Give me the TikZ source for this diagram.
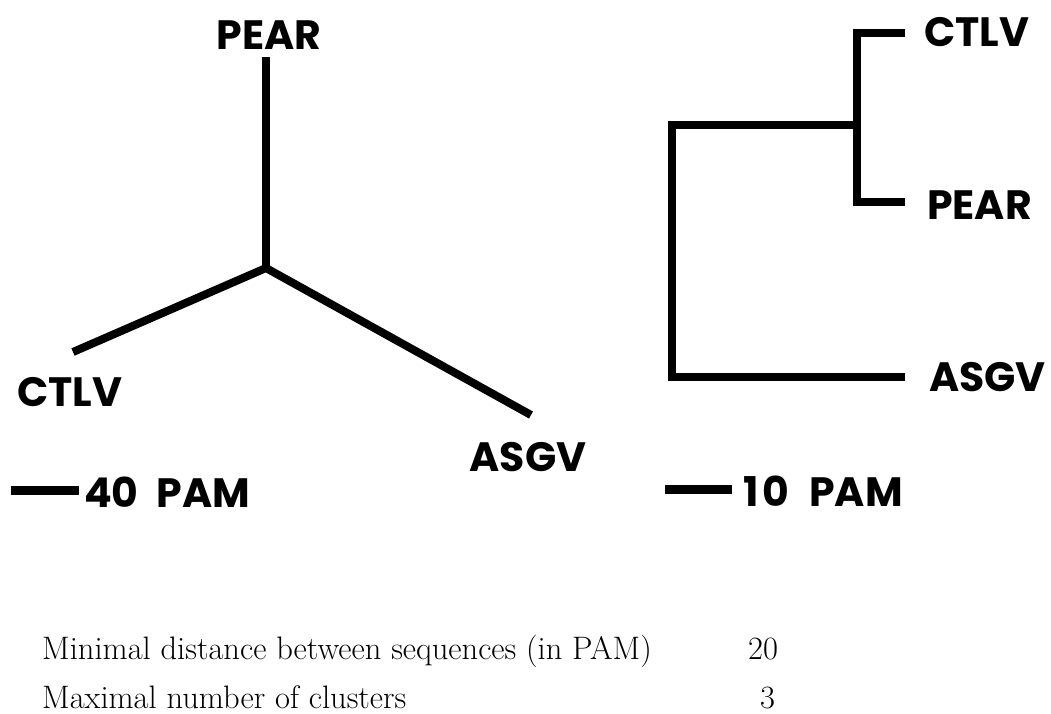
\documentclass[tikz,border=0pt]{standalone}
\usepackage{fontspec}
\newfontfamily\labelfont{Poppins}
\begin{document}
\begin{tikzpicture}[x=1pt,y=-1pt,
  branch/.style={line width=8pt,line cap=butt,line join=miter},
  scalebar/.style={line width=9pt,line cap=butt},
  taxon/.style={font=\labelfont\bfseries\fontsize{41}{41}\selectfont,inner sep=0pt},
  param/.style={font=\fontsize{32.5}{32.5}\selectfont,inner sep=0pt,anchor=base west}]
\path[use as bounding box,fill=white] (0,0) rectangle (1051,713);

% ---- unrooted tree ----
\coordinate (uroot) at (266,268);
\coordinate (upear) at (266,57);
\coordinate (uctlv) at (73,352);
\coordinate (uasgv) at (531,415);
\draw[branch] (upear) -- (uroot);
\draw[branch] (uctlv) -- (uroot) -- (uasgv);
\node[taxon] (lpear) at (269,35) {PEAR};
\node[taxon] (lctlv) at (70,392) {CTLV};
\node[taxon] (lasgv) at (528,457) {ASGV};

\coordinate (usbA) at (11,490);
\coordinate (usbB) at (79,490);
\draw[scalebar] (usbA) -- (usbB);
\node[taxon,anchor=west] (usblabel) at (84,492) {40\hspace{18pt}PAM};

% ---- rooted tree ----
\coordinate (rroot) at (672,125);
\coordinate (rinner) at (857,125);
\coordinate (rctlv) at (905,33);
\coordinate (rpear) at (905,202);
\coordinate (rasgv) at (905,377);
\draw[branch] (rasgv) -| (rroot) -- (rinner);
\draw[branch] (rctlv) -| (rinner) |- (rpear);
\node[taxon,anchor=west] (rlctlv) at (924,32) {CTLV};
\node[taxon,anchor=west] (rlpear) at (927,205) {PEAR};
\node[taxon,anchor=west] (rlasgv) at (929,377) {ASGV};

\coordinate (rsbA) at (665,489);
\coordinate (rsbB) at (732,489);
\draw[scalebar] (rsbA) -- (rsbB);
\node[taxon,anchor=west] (rsblabel) at (743,491) {1\hspace{4pt}0\hspace{20pt}PAM};

% ---- parameters ----
\node[param] (p1) at (42,659) {Minimal distance between sequences (in PAM)};
\node[param] (v1) at (748,659) {20};
\node[param] (p2) at (42,708) {Maximal number of clusters};
\node[param] (v2) at (760,708) {3};
\end{tikzpicture}
\end{document}
